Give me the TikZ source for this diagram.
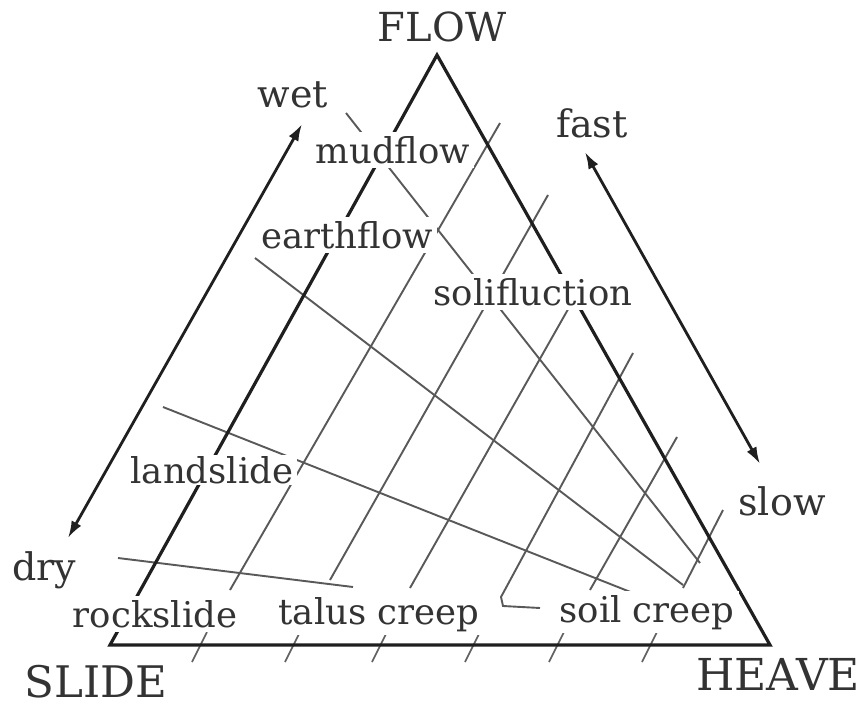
\documentclass[tikz,border=0pt]{standalone}
\usepackage{fontspec}
\setmainfont{DejaVu Serif}
\usetikzlibrary{arrows.meta}
\begin{document}
\begin{tikzpicture}[x=1pt,y=-1pt,
  side/.style={line width=3.2pt, draw=black!88},
  gridline/.style={line width=1.9pt, draw=black!65},
  basetick/.style={line width=1.6pt, draw=black!62},
  axisarrow/.style={line width=2.8pt, draw=black!88, {Latex[length=17pt,width=11pt]}-{Latex[length=17pt,width=11pt]}},
  lbl/.style={font=\fontsize{35.5}{36}\selectfont, text=black!80, fill=white, inner sep=4pt, anchor=base},
  axlbl/.style={font=\fontsize{38}{38}\selectfont, text=black!80, inner sep=0pt, anchor=base},
  cornerlbl/.style={font=\fontsize{40}{40}\selectfont, text=black!80, inner sep=0pt, anchor=base},
]
\useasboundingbox (0,0) rectangle (861,706);
\fill[white] (0,0) rectangle (861,706);
% triangle corners
\coordinate (S) at (110,645);
\coordinate (H) at (770,645);
\coordinate (F) at (437,55);
% radiating lines (towards HEAVE)
\coordinate (r1a) at (346,113); \coordinate (r1b) at (700,563);
\coordinate (r2a) at (255,258); \coordinate (r2b) at (683,585);
\coordinate (r3a) at (163,407); \coordinate (r3b) at (633,593);
\coordinate (r4a) at (118,558); \coordinate (r4b) at (353,587);
% lines parallel to SLIDE-FLOW side
\coordinate (l2a) at (500,123); \coordinate (l2b) at (230,590);
\coordinate (l3a) at (548,195); \coordinate (l3b) at (330,580);
\coordinate (l4a) at (575,297); \coordinate (l4b) at (410,588);
\coordinate (l5a) at (633,353); \coordinate (l5b) at (501,597);
\coordinate (l5c) at (503,606); \coordinate (l5d) at (540,608);
\coordinate (l6a) at (677,437); \coordinate (l6b) at (590,590);
\coordinate (l7a) at (723,510); \coordinate (l7b) at (683,588);
\foreach \a/\b in {r1a/r1b,r2a/r2b,r3a/r3b,r4a/r4b,l2a/l2b,l3a/l3b,l4a/l4b,l6a/l6b,l7a/l7b}
  \draw[gridline] (\a) -- (\b);
\draw[gridline] (l5a) -- (l5b) -- (l5c) -- (l5d);
% ticks on the base
\foreach \x [count=\i] in {200,293,380,473,557,650}{
  \coordinate (t\i a) at (\x+7,632);
  \coordinate (t\i b) at (\x-8,662);
  \draw[basetick] (t\i a) -- (t\i b);
}
% triangle
\draw[side, line join=miter] (S) -- (F) -- (H) -- cycle;
% zone labels
\node[lbl] (mud) at (393,163) {mudflow};
\node[lbl] (earth) at (347,248) {earthflow};
\node[lbl] (soli) at (533,305) {solifluction};
\node[lbl, inner ysep=1pt] (land) at (212,483) {landslide};
\node[lbl] (rock) at (155,627) {rockslide};
\node[lbl] (talus) at (379,624) {talus creep};
\node[lbl] (soil) at (647,622) {soil creep};
% corner labels
\node[cornerlbl] (flow) at (442,42) {FLOW};
\node[cornerlbl, font=\fontsize{43.5}{44}\selectfont] (slide) at (96,697) {SLIDE};
\node[cornerlbl, font=\fontsize{44}{44}\selectfont] (heave) at (778,690) {HEAVE};
% axis labels and arrows
\node[axlbl] (wet) at (293,107) {wet};
\node[axlbl] (dry) at (44,580) {dry};
\node[axlbl] (fast) at (592,137) {fast};
\node[axlbl] (slow) at (782,515) {slow};
\coordinate (drytip) at (68,538);
\coordinate (wettip) at (302,124);
\coordinate (fasttip) at (585,152);
\coordinate (slowtip) at (760,464);
\draw[axisarrow] (drytip) -- (wettip);
\draw[axisarrow] (fasttip) -- (slowtip);
\end{tikzpicture}
\end{document}
